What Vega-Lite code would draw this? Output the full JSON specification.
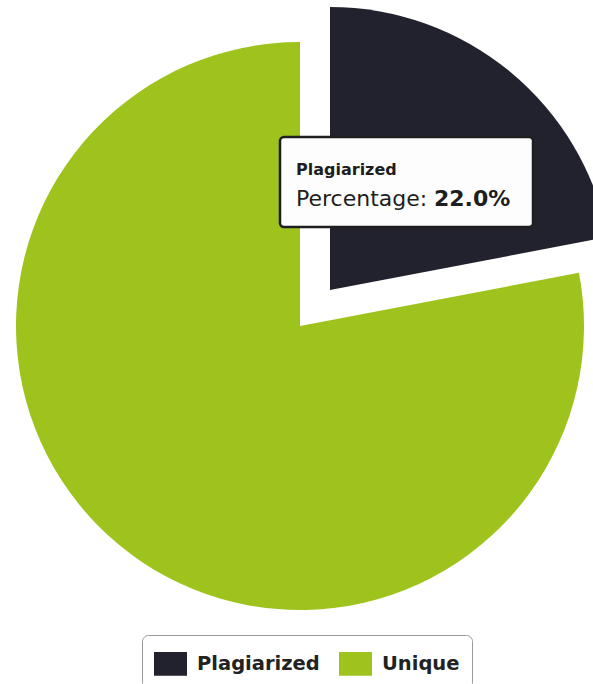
{
  "$schema": "https://vega.github.io/schema/vega-lite/v6.json",
  "width": 600,
  "height": 652,
  "autosize": "none",
  "padding": {"left": 0, "top": 0, "right": 0, "bottom": 32},
  "background": "white",
  "config": {"view": {"stroke": null}},
  "data": {
    "values": [
      {"category": "Plagiarized", "share": 0.22, "order": 1},
      {"category": "Unique", "share": 0.78, "order": 2}
    ]
  },
  "transform": [
    {"stack": "share", "groupby": [], "sort": [{"field": "order"}], "as": ["start", "end"]}
  ],
  "layer": [
    {
      "transform": [{"filter": "datum.category === 'Unique'"}],
      "mark": {"type": "arc", "outerRadius": 284},
      "encoding": {
        "theta": {"field": "start", "type": "quantitative", "scale": {"domain": [0, 1]}},
        "theta2": {"field": "end"},
        "color": {
          "field": "category",
          "type": "nominal",
          "scale": {"domain": ["Plagiarized", "Unique"], "range": ["#22222e", "#9fc31d"]},
          "legend": {
            "title": null,
            "orient": "none",
            "legendX": 142,
            "legendY": 635,
            "direction": "horizontal",
            "symbolType": "M-1,-0.72L1,-0.72L1,0.72L-1,0.72Z",
            "symbolSize": 1089,
            "symbolStrokeWidth": 0,
            "labelFont": "DejaVu Sans",
            "labelFontSize": 19.5,
            "labelFontWeight": "bold",
            "labelColor": "#222222",
            "labelOffset": 10,
            "columnPadding": 19,
            "strokeColor": "#9a9a9a",
            "fillColor": "white",
            "cornerRadius": 6,
            "padding": 12
          }
        }
      }
    },
    {
      "transform": [{"filter": "datum.category === 'Plagiarized'"}],
      "mark": {"type": "arc", "outerRadius": 283, "xOffset": 30, "yOffset": -36},
      "encoding": {
        "theta": {"field": "start", "type": "quantitative", "scale": {"domain": [0, 1]}},
        "theta2": {"field": "end"},
        "color": {"field": "category", "type": "nominal"}
      }
    },
    {
      "transform": [{"filter": "datum.category === 'Plagiarized'"}],
      "mark": {"type": "rect", "x": 280, "y": 137, "x2": 533, "y2": 227, "fill": "#fdfdfd", "stroke": "#1e1e1e", "strokeWidth": 2.5, "cornerRadius": 4},
      "encoding": {}
    },
    {
      "transform": [{"filter": "datum.category === 'Plagiarized'"}],
      "mark": {"type": "text", "x": 296, "y": 175, "align": "left", "baseline": "alphabetic", "font": "DejaVu Sans", "fontSize": 16, "fontWeight": "bold", "color": "#1e1e1e"},
      "encoding": {"text": {"field": "category", "type": "nominal"}}
    },
    {
      "transform": [{"filter": "datum.category === 'Plagiarized'"}],
      "mark": {"type": "text", "x": 296, "y": 206, "align": "left", "baseline": "alphabetic", "font": "DejaVu Sans", "fontSize": 22, "color": "#1e1e1e", "text": "Percentage:"},
      "encoding": {}
    },
    {
      "transform": [{"filter": "datum.category === 'Plagiarized'"}],
      "mark": {"type": "text", "x": 434, "y": 206, "align": "left", "baseline": "alphabetic", "font": "DejaVu Sans", "fontSize": 22, "fontWeight": "bold", "color": "#1e1e1e"},
      "encoding": {"text": {"field": "share", "type": "quantitative", "format": ".1%"}}
    }
  ]
}
